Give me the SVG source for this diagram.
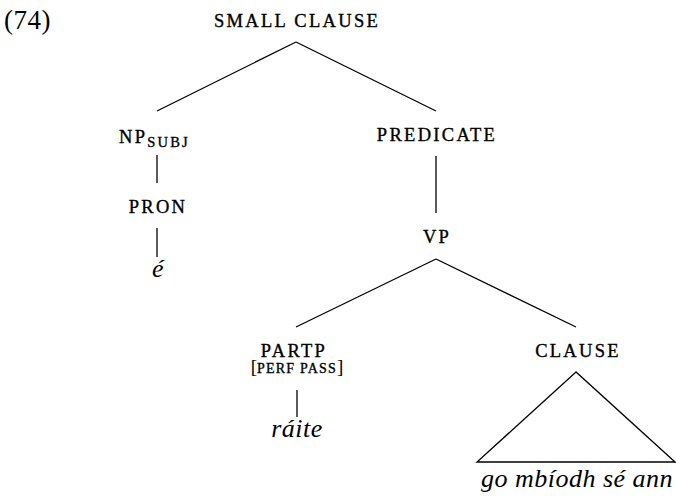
<svg xmlns="http://www.w3.org/2000/svg" width="676" height="499" viewBox="0 0 676 499">
<style>
text{font-family:'Liberation Serif','DejaVu Serif','Times New Roman',serif;fill:#000}
.sc{font-size:18.5px;letter-spacing:2.3px;text-anchor:middle;stroke:#000;stroke-width:0.35px}
.sub{font-size:14.5px;letter-spacing:2.2px}
.feat{font-size:14px;letter-spacing:1.2px}
.br{font-size:19px;letter-spacing:0;stroke-width:0}
.it{font-style:italic;font-size:26px;letter-spacing:0.5px;text-anchor:middle}
.num{font-size:27px;letter-spacing:0.5px}
.edge{stroke:#000;stroke-width:1.3;fill:none}
</style>
<rect width="676" height="499" fill="#fff"/>
<text class="num" x="4" y="29">(74)</text>
<g id="edges">
<line class="edge" x1="296" y1="42" x2="157" y2="111"/>
<line class="edge" x1="296" y1="42" x2="436" y2="111"/>
<line class="edge" x1="157" y1="155" x2="157" y2="183"/>
<line class="edge" x1="157" y1="228" x2="157" y2="257"/>
<line class="edge" x1="436" y1="156" x2="436" y2="213"/>
<line class="edge" x1="436" y1="259" x2="296" y2="327"/>
<line class="edge" x1="436" y1="259" x2="576" y2="327"/>
<line class="edge" x1="297" y1="390" x2="297" y2="417"/>
<polygon class="edge" points="576,372 477,462 675,462"/>
</g>
<g id="small-clause"><text class="sc" x="297" y="27">SMALL CLAUSE</text></g>
<g id="np-subj"><text class="sc" y="143" style="text-anchor:start"><tspan x="119">NP</tspan><tspan class="sub" dy="4">SUBJ</tspan></text></g>
<g id="pron"><text class="sc" x="158" y="213">PRON</text></g>
<g id="e"><text class="it" x="158" y="277">é</text></g>
<g id="predicate"><text class="sc" x="437" y="141">PREDICATE</text></g>
<g id="vp"><text class="sc" x="437" y="243">VP</text></g>
<g id="partp"><text class="sc" x="294" y="357">PARTP</text>
<text class="sc" x="297" y="373" style="letter-spacing:0"><tspan class="br">[</tspan><tspan class="feat">PERF PASS</tspan><tspan class="br">]</tspan></text></g>
<g id="raite"><text class="it" x="297" y="437">ráite</text></g>
<g id="clause"><text class="sc" x="578" y="357">CLAUSE</text></g>
<g id="go-mbiodh"><text class="it" x="577" y="487">go mbíodh sé ann</text></g>
</svg>
